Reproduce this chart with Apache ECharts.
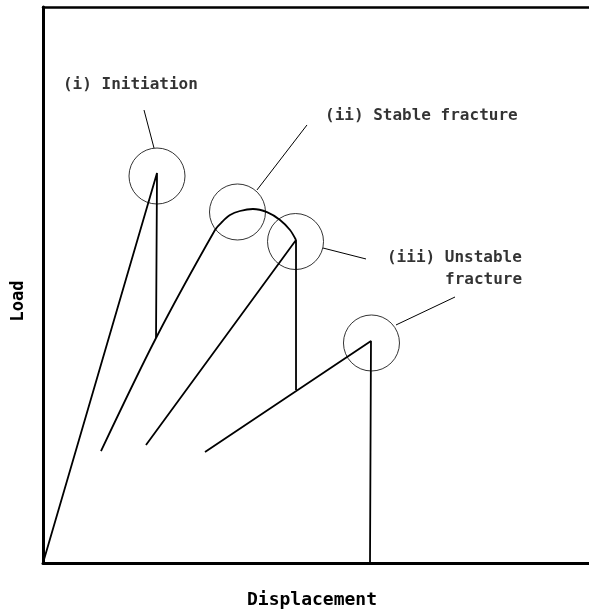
<!DOCTYPE html>
<html>
<head>
<meta charset="utf-8">
<script src="https://cdn.jsdelivr.net/npm/echarts@6/dist/echarts.min.js"></script>
<style>
  html, body { margin: 0; padding: 0; background: #fff; }
  #chart { width: 589px; height: 612px; }
</style>
</head>
<body>
<div id="chart"></div>
<script>
// courbes charge / deplacement (unites arbitraires 0-100)
const initiationCurve = [[0, 0], [20.88, 70.14], [20.70, 40.47]];
const stableCurve = [
  [10.62, 20.14], [20.70, 40.47], [31.50, 59.89], [32.78, 61.33], [34.25, 62.59],
  [36.08, 63.31], [38.46, 63.67], [41.03, 63.10], [43.41, 61.69], [45.24, 59.89], [46.34, 58.09]
];
const secondCurve = [[18.86, 21.22], [46.34, 58.09], [46.34, 31.12]];
const unstableCurve = [[29.67, 19.96], [60.07, 39.93], [59.89, 0]];

// cercles et traits de rappel
const circleCenters = [[20.88, 69.60], [35.62, 63.13], [46.25, 57.82], [60.16, 39.57]];
const leaders = [
  [[18.50, 81.47], [20.33, 74.64]],
  [[39.19, 67.09], [48.35, 78.78]],
  [[51.28, 56.65], [59.16, 54.68]],
  [[64.65, 42.81], [75.46, 47.84]]
];

// textes
const labels = [
  { name: "(i) Initiation", value: [3.66, 85.97] },
  { name: "(ii) Stable fracture", value: [51.65, 80.40] },
  { name: "(iii) Unstable", value: [63.00, 54.86] },
  { name: "fracture", value: [73.63, 50.90] }
];

const font = "DejaVu Sans Mono";

const curveSeries = (data, smooth) => ({
  type: "line",
  data: data,
  smooth: smooth || false,
  symbol: "none",
  lineStyle: { color: "#000", width: 1.8 },
  silent: true
});

const chart = echarts.init(document.getElementById("chart"));

const series = [
  curveSeries(initiationCurve),
  curveSeries(stableCurve, 0.3),
  curveSeries(secondCurve),
  curveSeries(unstableCurve),
  {
    type: "scatter",
    data: circleCenters,
    symbol: "circle",
    symbolSize: 56,
    itemStyle: { color: "transparent", borderColor: "#000", borderWidth: 1 },
    silent: true
  },
  {
    type: "scatter",
    data: labels,
    symbolSize: 0,
    label: {
      show: true,
      position: "right",
      distance: 0,
      formatter: (p) => p.data.name,
      fontFamily: font,
      fontSize: 16,
      fontWeight: "bold",
      color: "#000"
    },
    silent: true
  }
];

leaders.forEach((seg) => {
  series.push({
    type: "line",
    data: seg,
    symbol: "none",
    lineStyle: { color: "#000", width: 1 },
    silent: true
  });
});

chart.setOption({
  animation: false,
  grid: { left: 43, right: 0, top: 7, bottom: 49, outerBoundsMode: "none", containLabel: false },
  xAxis: [
    {
      type: "value",
      min: 0,
      max: 100,
      name: "Displacement",
      nameLocation: "middle",
      nameGap: 28,
      nameTextStyle: { fontFamily: font, fontSize: 18, fontWeight: "bold", color: "#000", padding: [0, 8, 0, 0] },
      axisLine: { show: true, lineStyle: { color: "#000", width: 3 } },
      axisTick: { show: false },
      axisLabel: { show: false },
      splitLine: { show: false }
    },
    {
      type: "value",
      position: "top",
      min: 0,
      max: 100,
      axisLine: { show: true, lineStyle: { color: "#000", width: 2.5 } },
      axisTick: { show: false },
      axisLabel: { show: false },
      splitLine: { show: false }
    }
  ],
  yAxis: {
    type: "value",
    min: 0,
    max: 100,
    name: "Load",
    nameLocation: "middle",
    nameRotate: 90,
    nameGap: 16,
    nameTextStyle: { fontFamily: font, fontSize: 17, fontWeight: "bold", color: "#000", padding: [0, 32, 0, 0] },
    axisLine: { show: true, lineStyle: { color: "#000", width: 3 } },
    axisTick: { show: false },
    axisLabel: { show: false },
    splitLine: { show: false }
  },
  series: series
});
</script>
</body>
</html>
